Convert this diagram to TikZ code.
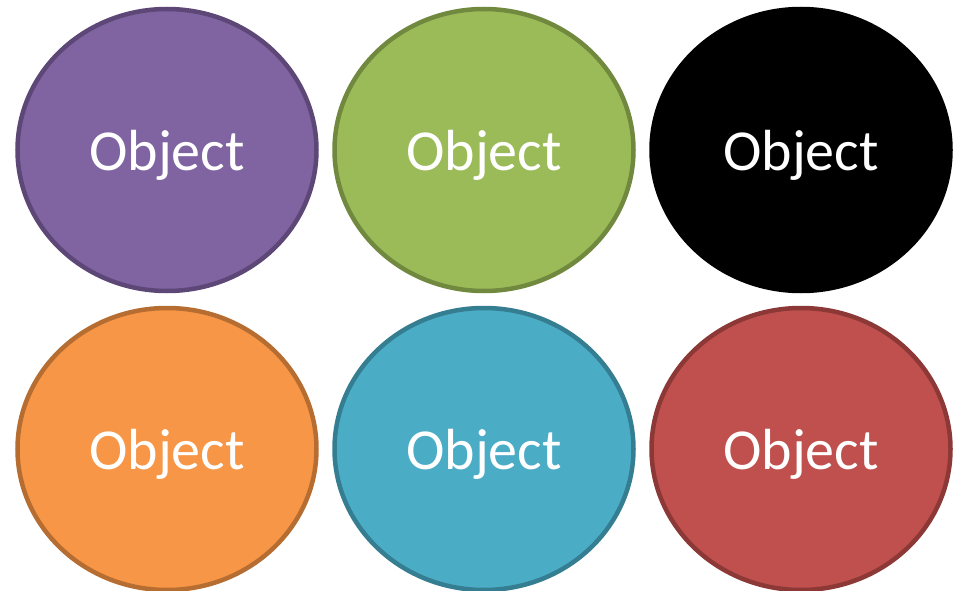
\documentclass[tikz,border=0pt]{standalone}
\usepackage{fontspec}
\setmainfont{Carlito}
\usetikzlibrary{positioning,shapes.geometric}
\definecolor{purplefill}{HTML}{8064A2}
\definecolor{purpleline}{HTML}{5C4776}
\definecolor{greenfill}{HTML}{9BBB59}
\definecolor{greenline}{HTML}{71893F}
\definecolor{orangefill}{HTML}{F79646}
\definecolor{orangeline}{HTML}{B66D31}
\definecolor{bluefill}{HTML}{4BACC6}
\definecolor{blueline}{HTML}{357D91}
\definecolor{redfill}{HTML}{C0504D}
\definecolor{redline}{HTML}{8C3836}

\begin{document}
\begin{tikzpicture}[
  x=1pt, y=1pt,
  node distance=17pt and 18pt,
  object/.style={ellipse, line width=4.5pt, inner sep=0pt, outer sep=0pt,
                 minimum width=299pt, minimum height=282pt,
                 text height=53pt, text depth=12pt,
                 font=\fontsize{58}{60}\selectfont, text=white},
]
  \useasboundingbox (0,0) rectangle (962,-591);

  % top row
  \node[object, fill=purplefill, draw=purpleline] (purple) at (167,-150) {Object};
  \node[object, fill=greenfill, draw=greenline, right=of purple] (green) {Object};
  \node[object, fill=black, draw=black, right=of green] (black) {Object};

  % bottom row
  \node[object, fill=orangefill, draw=orangeline, below=of purple] (orange) {Object};
  \node[object, fill=bluefill, draw=blueline, right=of orange] (blue) {Object};
  \node[object, fill=redfill, draw=redline, right=of blue] (red) {Object};
\end{tikzpicture}
\end{document}
